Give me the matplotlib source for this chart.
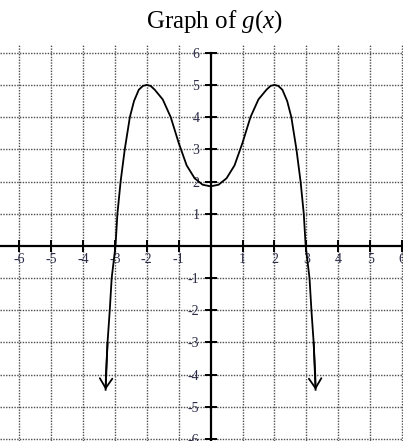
import matplotlib.pyplot as plt

plt.rcParams["font.family"] = "Liberation Serif"
plt.rcParams["mathtext.fontset"] = "custom"
plt.rcParams["mathtext.rm"] = "Liberation Serif"
plt.rcParams["mathtext.it"] = "Liberation Serif:italic"

# points read along the curve g(x), left end to right end
g_x = [-3.29, -3.28, -3.23, -3.16, -3.1, -2.98, -2.92, -2.82, -2.69, -2.53,
       -2.4, -2.25, -2.12, -2.0, -1.88, -1.75, -1.5, -1.25, -1.0, -0.75,
       -0.5, -0.25, 0.0, 0.25, 0.5, 0.75, 1.0, 1.25, 1.5, 1.75, 1.88, 2.0,
       2.12, 2.25, 2.4, 2.53, 2.69, 2.82, 2.92, 2.98, 3.1, 3.16, 3.23, 3.28,
       3.29]
g_y = [-4.47, -4.0, -3.0, -2.0, -1.0, 0.0, 1.0, 2.0, 3.0, 4.0,
       4.5, 4.85, 4.97, 5.0, 4.97, 4.85, 4.55, 4.0, 3.2, 2.5,
       2.1, 1.9, 1.85, 1.9, 2.1, 2.5, 3.2, 4.0, 4.55, 4.85, 4.97, 5.0,
       4.97, 4.85, 4.5, 4.0, 3.0, 2.0, 1.0, 0.0, -1.0, -2.0, -3.0, -4.0,
       -4.47]

ticks = [-6, -5, -4, -3, -2, -1, 1, 2, 3, 4, 5, 6]
tick_labels = ["-6", "-5", "-4", "-3", "-2", "-1", "1", "2", "3", "4", "5", "6"]

fig = plt.figure(figsize=(4.03, 4.41), dpi=100)
ax = fig.add_axes([0, 0, 1, 396 / 441])
ax.set_xlim(-6.6, 6.03)
ax.set_ylim(-6.06, 6.24)

# axes through the origin
for side in ["top", "right"]:
    ax.spines[side].set_visible(False)
for side in ["left", "bottom"]:
    ax.spines[side].set_position("zero")
    ax.spines[side].set_linewidth(1.6)
ax.spines["bottom"].set_bounds(-6.6, 6.03)
ax.spines["left"].set_bounds(-6.06, 6.0)

ax.set_xticks(ticks)
ax.set_xticklabels(tick_labels)
ax.set_yticks(ticks)
ax.set_yticklabels(tick_labels)
ax.tick_params(direction="inout", length=8, width=1.4, labelsize=10,
               labelcolor="#2b2b48")
ax.tick_params(axis="x", pad=1)
ax.tick_params(axis="y", pad=4)

ax.grid(True, color="#4d4d4d", linestyle=(0, (1, 1)), linewidth=1.0)
ax.set_axisbelow(True)

ax.plot(g_x, g_y, color="black", linewidth=1.3, zorder=5)
for i, j in ((0, 2), (-1, -3)):
    ax.annotate("", xy=(g_x[i], g_y[i]), xytext=(g_x[j], g_y[j]),
                arrowprops=dict(arrowstyle="->,head_length=0.7,head_width=0.45",
                                color="black", lw=1.3, shrinkA=0, shrinkB=0),
                zorder=6)

fig.text(0.531, 0.95, r"Graph of $g$($x$)", ha="center", va="center",
         fontsize=18)

fig.savefig("out.png", dpi=100)
